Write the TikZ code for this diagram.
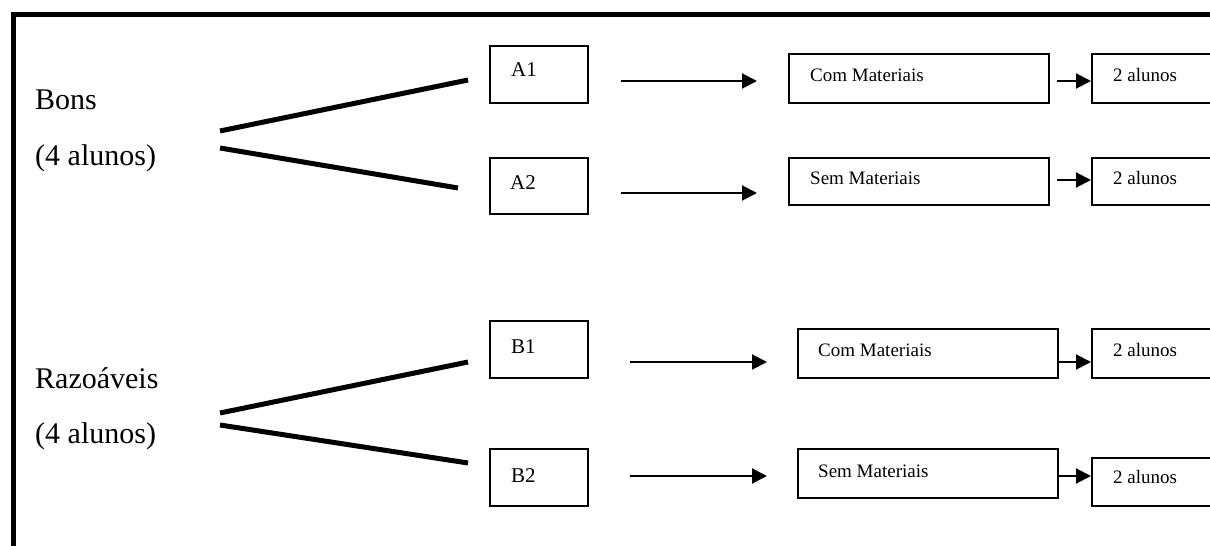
\documentclass[tikz,border=0pt]{standalone}
\usepackage{fontspec}
\setmainfont{Liberation Serif}
\usetikzlibrary{arrows.meta,calc}
\tikzset{
  box/.style={draw, line width=1.8bp, anchor=north west, inner sep=0pt},
  bigtxt/.style={anchor=base west, inner sep=0pt, font=\fontsize{30bp}{36bp}\selectfont},
  midtxt/.style={anchor=base west, inner sep=0pt, font=\fontsize{21bp}{25bp}\selectfont},
  smalltxt/.style={anchor=base west, inner sep=0pt, font=\fontsize{19bp}{23bp}\selectfont},
  branch/.style={line width=5bp},
  arr/.style={line width=2bp, -{Triangle[length=15bp,width=15bp]}},
  frame/.style={line width=5bp}
}
\begin{document}
\begin{tikzpicture}[x=1bp,y=-1bp]
\useasboundingbox (0,0) rectangle (1210,546);
\clip (0,0) rectangle (1210,546);
% frame
\coordinate (f1) at (13,560);
\coordinate (f2) at (13,14.5);
\coordinate (f3) at (1230,14.5);
\draw[frame] (f1) -- (f2) -- (f3);

% left labels
\node[bigtxt] (bons) at (35,110) {Bons};
\node[bigtxt] (bonsn) at (35,166) {(4 alunos)};
\node[bigtxt] (raz) at (35,388) {Razoáveis};
\node[bigtxt] (razn) at (35,443) {(4 alunos)};

% branch coordinates
\coordinate (b1s) at (220,131); \coordinate (b1e) at (468,80);
\coordinate (b2s) at (220,148); \coordinate (b2e) at (458,188);
\coordinate (r1s) at (220,413); \coordinate (r1e) at (468,362);
\coordinate (r2s) at (220,425); \coordinate (r2e) at (468,463);
\draw[branch] (b1s) -- (b1e);
\draw[branch] (b2s) -- (b2e);
\draw[branch] (r1s) -- (r1e);
\draw[branch] (r2s) -- (r2e);

% group boxes
\node[box, minimum width=98bp, minimum height=57bp] (a1) at (489,45) {};
\node[midtxt] (a1t) at ([shift={(22,32)}]a1.north west) {A1};
\node[box, minimum width=98bp, minimum height=56bp] (a2) at (489,157) {};
\node[midtxt] (a2t) at ([shift={(21,33)}]a2.north west) {A2};
\node[box, minimum width=98bp, minimum height=57bp] (bb1) at (489,320) {};
\node[midtxt] (bb1t) at ([shift={(22,34)}]bb1.north west) {B1};
\node[box, minimum width=98bp, minimum height=57bp] (bb2) at (489,448) {};
\node[midtxt] (bb2t) at ([shift={(22,34)}]bb2.north west) {B2};

% material boxes
\node[box, minimum width=260bp, minimum height=49bp] (cm1) at (788,53) {};
\node[smalltxt] (cm1t) at ([shift={(22,29)}]cm1.north west) {Com Materiais};
\node[box, minimum width=260bp, minimum height=47bp] (sm1) at (788,157) {};
\node[smalltxt] (sm1t) at ([shift={(22,28)}]sm1.north west) {Sem Materiais};
\node[box, minimum width=260bp, minimum height=49bp] (cm2) at (797,328) {};
\node[smalltxt] (cm2t) at ([shift={(21,29)}]cm2.north west) {Com Materiais};
\node[box, minimum width=260bp, minimum height=49bp] (sm2) at (797,448) {};
\node[smalltxt] (sm2t) at ([shift={(21,29)}]sm2.north west) {Sem Materiais};

% result boxes
\node[box, minimum width=130bp, minimum height=49bp] (n1) at (1091,53) {};
\node[smalltxt] (n1t) at ([shift={(22,29)}]n1.north west) {2 alunos};
\node[box, minimum width=130bp, minimum height=47bp] (n2) at (1091,157) {};
\node[smalltxt] (n2t) at ([shift={(22,28)}]n2.north west) {2 alunos};
\node[box, minimum width=130bp, minimum height=49bp] (n3) at (1091,328) {};
\node[smalltxt] (n3t) at ([shift={(22,29)}]n3.north west) {2 alunos};
\node[box, minimum width=130bp, minimum height=48bp] (n4) at (1091,457) {};
\node[smalltxt] (n4t) at ([shift={(22,26)}]n4.north west) {2 alunos};

% long arrows
\coordinate (la1s) at (621,81);  \coordinate (la1e) at (757,81);
\coordinate (la2s) at (621,193); \coordinate (la2e) at (757,193);
\coordinate (lb1s) at (630,362); \coordinate (lb1e) at (767,362);
\coordinate (lb2s) at (630,476); \coordinate (lb2e) at (767,476);
\draw[arr] (la1s) -- (la1e);
\draw[arr] (la2s) -- (la2e);
\draw[arr] (lb1s) -- (lb1e);
\draw[arr] (lb2s) -- (lb2e);

% short arrows
\coordinate (sa1) at (1057,81);
\coordinate (sa2) at (1057,180);
\draw[arr] (sa1) -- (sa1 -| n1.west);
\draw[arr] (sa2) -- (sa2 -| n2.west);
\draw[arr] (cm2.east |- 0,362) -- (n3.west |- 0,362);
\draw[arr] (sm2.east |- 0,476) -- (n4.west |- 0,476);
\end{tikzpicture}
\end{document}
